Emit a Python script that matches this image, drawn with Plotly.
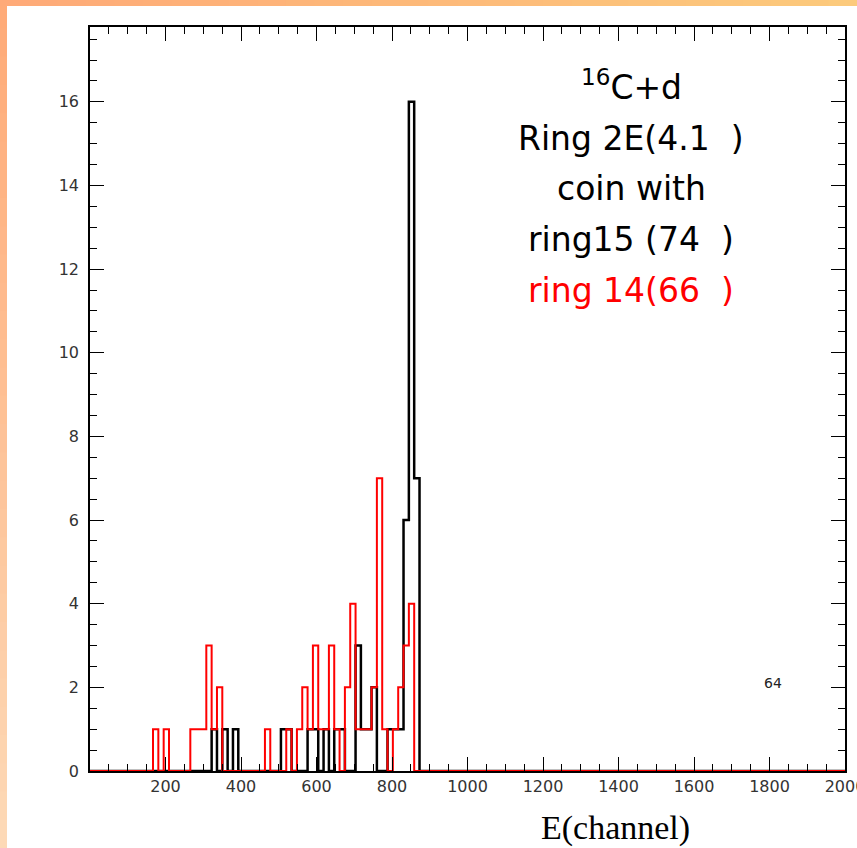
import plotly.graph_objects as go

# Histogram binning (channels)
bin_start = 166.9
bin_width = 14.12

# Counts per bin, starting at bin_start
ring15_counts = [0, 0, 0, 0, 0, 0, 0, 0, 0, 0, 0, 1, 0, 1, 0, 1, 0, 0, 0, 0,
                 0, 0, 0, 0, 1, 1, 0, 0, 0, 1, 1, 0, 1, 0, 1, 1, 0, 0, 3, 1,
                 1, 2, 0, 0, 1, 1, 1, 6, 16, 7, 0]
ring14_counts = [1, 0, 1, 0, 0, 0, 0, 1, 1, 1, 3, 1, 2, 0, 0, 0, 0, 0, 0, 0,
                 0, 1, 0, 0, 0, 1, 0, 1, 2, 1, 3, 1, 1, 3, 1, 0, 2, 4, 1, 1,
                 1, 2, 7, 1, 0, 1, 2, 3, 4, 0, 0]

x_ticks = [200, 400, 600, 800, 1000, 1200, 1400, 1600, 1800, 2000]
y_ticks = [0, 2, 4, 6, 8, 10, 12, 14, 16]


def step_xy(counts):
    xs, ys = [0], [0]
    for i, c in enumerate(counts):
        xs.append(bin_start + i * bin_width)
        ys.append(c)
    xs.append(bin_start + len(counts) * bin_width)
    ys.append(0)
    xs.append(2000)
    ys.append(0)
    return xs, ys


fig = go.Figure()
bx, by = step_xy(ring15_counts)
rx, ry = step_xy(ring14_counts)
fig.add_trace(go.Scatter(x=bx, y=by, mode="lines", line=dict(color="black", width=2.5, shape="hv"),
                         showlegend=False, hoverinfo="skip"))
fig.add_trace(go.Scatter(x=rx, y=ry, mode="lines", line=dict(color="#ff0000", width=2, shape="hv"),
                         showlegend=False, hoverinfo="skip"))

tick_family = "DejaVu Sans, Liberation Sans, sans-serif"
tickfont = dict(family=tick_family, size=16, color="#333")
fig.update_xaxes(range=[0, 2000], tickvals=x_ticks, ticks="inside", ticklen=14, tickwidth=1,
                 tickcolor="black", mirror="ticks", showline=True, linecolor="black", linewidth=1.5,
                 showgrid=False, zeroline=False, tickfont=tickfont, ticklabeloverflow="allow",
                 automargin=False,
                 minor=dict(dtick=50, ticks="inside", ticklen=7, tickcolor="black", tickwidth=1, showgrid=False))
fig.update_yaxes(range=[0, 17.79], tickvals=y_ticks, ticks="inside", ticklen=14, tickwidth=1,
                 tickcolor="black", mirror="ticks", showline=True, linecolor="black", linewidth=1.5,
                 showgrid=False, zeroline=False, tickfont=tickfont, ticklabelstandoff=6,
                 automargin=False,
                 minor=dict(dtick=0.5, ticks="inside", ticklen=7, tickcolor="black", tickwidth=1, showgrid=False))

# Slide border: orange gradient bands on the left and top edges
L, T, PW, PH = 90, 27, 755, 744
W, H = 857, 848


def px_x(p):
    return (p - L) / PW


def px_y(p):
    return (T + PH - p) / PH


shapes = []
n = 30
for i in range(n):
    f = i / (n - 1)
    c_left = "rgb({},{},{})".format(int(255 - 2 * f), int(171 + 46 * f), int(120 + 62 * f))
    shapes.append(dict(type="rect", xref="paper", yref="paper",
                       x0=px_x(0), x1=px_x(7),
                       y0=px_y(i / n * H), y1=px_y((i + 1) / n * H + 1),
                       line=dict(width=0), fillcolor=c_left, layer="below"))
    c_top = "rgb({},{},{})".format(int(255 - 3 * f), int(170 + 32 * f), int(120 + 4 * f))
    shapes.append(dict(type="rect", xref="paper", yref="paper",
                       x0=px_x(i / n * W), x1=px_x((i + 1) / n * W + 1),
                       y0=px_y(0), y1=px_y(6),
                       line=dict(width=0), fillcolor=c_top, layer="below"))

label_family = "DejaVu Sans, Noto Sans, sans-serif"
lines = [("<sup>16</sup>C+d", 85, "black"),
         ("Ring 2E(4.1  )", 138, "black"),
         ("coin with", 188, "black"),
         ("ring15 (74  )", 240, "black"),
         ("ring 14(66  )", 290, "#ff0000")]
annotations = []
for txt, py, col in lines:
    annotations.append(dict(text=txt, xref="paper", yref="paper", x=px_x(631), y=px_y(py),
                            xanchor="center", yanchor="middle", showarrow=False,
                            font=dict(family=label_family, size=33, color=col)))
annotations.append(dict(text="64", x=1810, y=2.1, xref="x", yref="y", showarrow=False,
                        font=dict(family=tick_family, size=14, color="#222")))
annotations.append(dict(text="E(channel)", xref="paper", yref="paper", x=px_x(615),
                        y=px_y(828), xanchor="center", yanchor="middle", showarrow=False,
                        font=dict(family="Liberation Serif, Times New Roman, serif", size=34, color="black")))

fig.update_layout(width=W, height=H, margin=dict(l=L, r=W - L - PW, t=T, b=H - T - PH, autoexpand=False),
                  paper_bgcolor="white", plot_bgcolor="white",
                  shapes=shapes, annotations=annotations, showlegend=False)

fig.write_html("out.html")
